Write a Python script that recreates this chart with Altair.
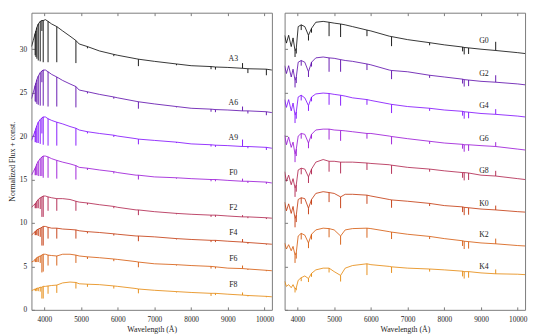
import altair as alt
import pandas as pd

# ---------------- data ----------------
TYPES_L = ["A3", "A6", "A9", "F0", "F2", "F4", "F6", "F8"]
TYPES_R = ["G0", "G2", "G4", "G6", "G8", "K0", "K2", "K4"]
COLORS = ["#000000", "#5600a8", "#7a03fd", "#950ad5", "#ac1844", "#c02f00", "#d35200", "#e48300"]

X_TICKS = [4000, 5000, 6000, 7000, 8000, 9000, 10000]
Y_TICKS = [0, 5, 10, 15, 20, 25, 30]

# left panel: wavelength grid (continuum samples incl. line centres)
GRID_L = [3650, 3700, 3750, 3771, 3798, 3835, 3889, 3934, 3970, 4030, 4102, 4200, 4340,
          4500, 4700, 4861, 4950, 5175, 5500, 5893, 6000, 6500, 6563, 7000, 7600, 8000,
          8542, 8662, 9000, 9400, 9546, 10049, 10200]
LINES_L = [3750, 3771, 3798, 3835, 3889, 3934, 3970, 4102, 4340, 4861, 5175, 5893, 6563,
           7600, 8542, 8662, 9400, 9546, 10049]

FLUX_A3 = [30.3, 31.0, 31.8, 32.1, 32.5, 32.9, 33.2, 33.3, 33.3, 33.4, 33.2, 32.9, 32.6, 32.1, 31.5, 31.0, 30.6, 30.3, 29.8, 29.4, 29.3, 28.9, 28.85, 28.6, 28.3, 28.1, 28.0, 27.95, 27.9, 27.8, 27.75, 27.7, 27.6]
FLUX_A6 = [24.3, 25.0, 25.8, 26.1, 26.5, 26.9, 27.3, 27.5, 27.6, 27.6, 27.4, 27.1, 26.8, 26.4, 26.0, 25.7, 25.3, 25.1, 24.8, 24.5, 24.4, 24.0, 23.95, 23.7, 23.4, 23.2, 23.1, 23.05, 23.0, 22.9, 22.9, 22.8, 22.7]
FLUX_A9 = [19.5, 20.0, 20.6, 20.9, 21.2, 21.6, 21.9, 22.1, 22.2, 22.2, 22.0, 21.8, 21.6, 21.4, 21.1, 20.9, 20.7, 20.5, 20.3, 20.1, 20.0, 19.7, 19.65, 19.5, 19.3, 19.1, 19.0, 18.95, 18.9, 18.8, 18.8, 18.7, 18.6]
FLUX_F0 = [15.5, 15.9, 16.3, 16.5, 16.8, 17.1, 17.4, 17.6, 17.7, 17.7, 17.6, 17.4, 17.2, 17.0, 16.8, 16.6, 16.4, 16.3, 16.1, 15.9, 15.8, 15.5, 15.5, 15.3, 15.2, 15.1, 15.0, 15.0, 14.9, 14.8, 14.8, 14.7, 14.6]
FLUX_F2 = [11.8, 12.0, 12.2, 12.3, 12.5, 12.7, 12.9, 13.0, 13.1, 13.1, 13.0, 12.9, 12.8, 12.8, 12.7, 12.5, 12.4, 12.3, 12.1, 11.9, 11.8, 11.5, 11.5, 11.3, 11.1, 11.0, 10.9, 10.9, 10.8, 10.7, 10.7, 10.6, 10.55]
FLUX_F4 = [8.6, 8.8, 9.0, 9.1, 9.2, 9.3, 9.4, 9.5, 9.6, 9.6, 9.5, 9.4, 9.4, 9.3, 9.25, 9.2, 9.1, 9.0, 8.9, 8.75, 8.7, 8.5, 8.5, 8.4, 8.2, 8.1, 8.0, 8.0, 7.9, 7.8, 7.75, 7.6, 7.55]
FLUX_F6 = [5.5, 5.6, 5.8, 5.9, 6.0, 6.1, 6.2, 6.3, 6.4, 6.4, 6.3, 6.25, 6.2, 6.4, 6.4, 6.3, 6.2, 6.1, 6.0, 5.85, 5.8, 5.55, 5.5, 5.3, 5.2, 5.1, 5.0, 4.95, 4.8, 4.75, 4.7, 4.55, 4.5]
FLUX_F8 = [2.2, 2.3, 2.4, 2.4, 2.5, 2.5, 2.6, 2.6, 2.7, 2.7, 2.75, 2.8, 2.85, 3.1, 3.2, 3.15, 3.0, 2.95, 2.9, 2.75, 2.7, 2.45, 2.4, 2.25, 2.1, 2.0, 1.9, 1.9, 1.8, 1.7, 1.65, 1.55, 1.5]

DEPTH_A3 = [2.5, 3.0, 3.6, 4.2, 4.6, 1.2, 4.8, 4.7, 4.1, 2.6, 0.2, 0.2, 0.8, 0.15, 0.3, 0.3, -0.6, 0.5, 0.7]
DEPTH_A6 = [1.8, 2.2, 2.8, 3.3, 3.8, 1.3, 4.1, 4.0, 3.4, 2.4, 0.2, 0.2, 0.8, 0.1, 0.3, 0.3, -0.5, 0.3, 0.4]
DEPTH_A9 = [1.3, 1.6, 2.0, 2.4, 2.8, 1.8, 3.2, 3.1, 2.7, 2.0, 0.2, 0.2, 0.6, 0.1, 0.2, 0.2, -0.8, 0.2, 0.3]
DEPTH_F0 = [0.8, 1.0, 1.3, 1.7, 2.0, 2.2, 2.5, 2.4, 2.1, 1.6, 0.2, 0.2, 0.5, 0.1, 0.2, 0.2, -0.3, 0.2, 0.2]
DEPTH_F2 = [0.5, 0.6, 0.8, 1.0, 1.3, 2.3, 2.4, 1.6, 1.4, 1.1, 0.2, 0.2, 0.6, 0.1, 0.2, 0.2, -0.2, 0.15, 0.15]
DEPTH_F4 = [0.4, 0.5, 0.6, 0.8, 1.0, 2.1, 2.2, 1.3, 1.2, 1.0, 0.2, 0.2, 0.6, 0.1, 0.2, 0.2, -0.35, 0.15, 0.1]
DEPTH_F6 = [0.3, 0.4, 0.5, 0.6, 0.8, 2.0, 2.0, 1.2, 1.1, 0.9, 0.25, 0.25, 0.6, 0.1, 0.25, 0.2, -0.35, 0.1, 0.1]
DEPTH_F8 = [0.2, 0.25, 0.3, 0.35, 0.5, 1.3, 1.4, 0.9, 0.9, 0.7, 0.3, 0.3, 0.5, 0.1, 0.3, 0.2, -0.3, 0.1, 0.1]

# right panel
GRID_R = [3650, 3700, 3760, 3830, 3880, 3934, 3968, 4020, 4102, 4200, 4300, 4383, 4500,
          4700, 4861, 5000, 5175, 5300, 5500, 5893, 6000, 6500, 6563, 7000, 7600, 8000,
          8498, 8542, 8662, 9000, 9400, 10000, 10200]
LINES_R = [3934, 3968, 4102, 4300, 4383, 4861, 5175, 5893, 6563, 7600, 8498, 8542, 8662, 9400]

FLUX_G0 = [31.6, 30.7, 31.6, 30.3, 31.3, 29.8, 30.1, 32.6, 32.8, 32.6, 31.6, 32.4, 33.1, 33.2, 33.1, 33.0, 32.9, 32.8, 32.6, 32.2, 32.1, 31.5, 31.45, 31.1, 30.75, 30.5, 30.25, 30.2, 30.15, 30.0, 29.85, 29.6, 29.5]
FLUX_G2 = [28.1, 27.2, 28.1, 26.8, 27.7, 26.4, 26.8, 28.5, 28.7, 28.5, 27.4, 28.5, 29.0, 29.1, 29.0, 28.95, 28.8, 28.7, 28.6, 28.3, 28.2, 27.6, 27.55, 27.4, 27.0, 26.8, 26.55, 26.5, 26.45, 26.3, 26.2, 26.0, 25.9]
FLUX_G4 = [24.2, 23.3, 24.2, 22.9, 23.8, 22.4, 22.8, 24.5, 24.7, 24.4, 23.5, 24.5, 24.85, 24.95, 24.9, 24.8, 24.7, 24.6, 24.4, 24.2, 24.1, 23.7, 23.65, 23.4, 23.2, 23.0, 22.85, 22.8, 22.75, 22.6, 22.5, 22.3, 22.2]
FLUX_G6 = [20.1, 19.0, 19.9, 18.7, 19.3, 17.9, 18.5, 20.0, 20.3, 20.2, 19.2, 20.2, 20.7, 20.8, 20.8, 20.7, 20.65, 20.6, 20.5, 20.3, 20.3, 20.0, 19.95, 19.7, 19.4, 19.2, 19.05, 19.0, 19.0, 18.9, 18.8, 18.5, 18.4]
FLUX_G8 = [15.9, 14.8, 15.5, 14.4, 15.1, 14.0, 14.4, 16.1, 16.3, 16.2, 15.3, 16.2, 17.0, 17.3, 17.1, 17.1, 17.0, 17.0, 17.0, 16.9, 16.85, 16.7, 16.65, 16.4, 16.2, 16.0, 15.8, 15.8, 15.75, 15.5, 15.4, 15.1, 15.0]
FLUX_K0 = [12.4, 11.4, 12.2, 11.1, 11.9, 10.5, 10.9, 12.7, 12.9, 12.8, 11.7, 12.7, 13.4, 13.6, 13.5, 13.4, 13.0, 13.3, 13.3, 13.2, 13.1, 12.7, 12.65, 12.5, 12.25, 12.0, 11.85, 11.8, 11.75, 11.6, 11.5, 11.3, 11.25]
FLUX_K2 = [7.7, 7.0, 7.5, 6.8, 7.3, 6.3, 6.6, 8.5, 8.8, 8.6, 7.7, 8.7, 9.2, 9.4, 9.35, 9.2, 8.5, 9.2, 9.35, 9.4, 9.35, 9.0, 8.95, 8.7, 8.45, 8.2, 7.95, 7.9, 7.85, 7.7, 7.6, 7.4, 7.35]
FLUX_K4 = [3.3, 2.7, 2.9, 2.55, 2.9, 2.4, 2.55, 3.4, 3.7, 3.9, 3.6, 4.2, 4.6, 4.8, 4.8, 4.4, 3.96, 4.8, 5.1, 5.3, 5.2, 5.0, 4.95, 4.8, 4.7, 4.6, 4.45, 4.4, 4.4, 4.25, 4.15, 4.1, 4.05]

DEPTH_G0 = [0.7, 0.6, 0.6, 0.6, 0.5, 1.6, 1.5, 0.7, 1.1, 0.3, 0.5, 0.8, 0.7, -1.0]
DEPTH_G2 = [0.8, 0.7, 0.6, 0.6, 0.5, 1.6, 1.4, 0.7, 1.0, 0.3, 0.5, 0.8, 0.7, -0.8]
DEPTH_G4 = [0.9, 0.8, 0.6, 0.6, 0.5, 1.3, 1.2, 0.6, 1.0, 0.3, 0.5, 0.8, 0.7, -0.6]
DEPTH_G6 = [0.9, 0.8, 0.6, 0.6, 0.5, 1.2, 1.2, 0.6, 0.9, 0.3, 0.5, 0.8, 0.7, -0.5]
DEPTH_G8 = [1.0, 0.8, 0.7, 0.7, 0.6, 1.2, 1.3, 0.8, 1.0, 0.3, 0.6, 0.9, 0.8, -0.6]
DEPTH_K0 = [1.0, 0.8, 0.7, 0.7, 0.6, 1.1, 1.3, 1.0, 0.9, 0.3, 0.6, 0.9, 0.8, -0.5]
DEPTH_K2 = [0.9, 0.7, 0.7, 0.6, 0.6, 1.0, 1.0, 1.1, 0.8, 0.3, 0.6, 0.9, 0.8, -0.6]
DEPTH_K4 = [0.4, 0.3, 0.4, 0.4, 0.4, 0.5, 0.7, 1.3, 0.7, 0.3, 0.6, 0.8, 0.7, -0.5]

LABEL_Y_L = [28.9, 23.8, 19.8, 15.8, 11.7, 8.8, 5.9, 2.8]
LABEL_Y_R = [30.9, 27.1, 23.4, 19.7, 16.0, 12.2, 8.6, 4.9]
LABEL_X_L = 9150
LABEL_X_R = 9080

FLUX_L = [FLUX_A3, FLUX_A6, FLUX_A9, FLUX_F0, FLUX_F2, FLUX_F4, FLUX_F6, FLUX_F8]
DEPTH_L = [DEPTH_A3, DEPTH_A6, DEPTH_A9, DEPTH_F0, DEPTH_F2, DEPTH_F4, DEPTH_F6, DEPTH_F8]
FLUX_R = [FLUX_G0, FLUX_G2, FLUX_G4, FLUX_G6, FLUX_G8, FLUX_K0, FLUX_K2, FLUX_K4]
DEPTH_R = [DEPTH_G0, DEPTH_G2, DEPTH_G4, DEPTH_G6, DEPTH_G8, DEPTH_K0, DEPTH_K2, DEPTH_K4]

# ---------------- styling ----------------
FONT = "Liberation Serif"
W, H = 246, 304
XDOM = [3650, 10200]
YDOM = [0, 34.2]
FRAME = "#7a7a7a"
TEXT = "#222222"


def panel(types, grid, lines, fluxes, depths, label_y, label_x, first):
    rows, rrows, lrows = [], [], []
    for t, fl, dp, ly in zip(types, fluxes, depths, label_y):
        for w, f in zip(grid, fl):
            rows.append({"type": t, "wl": w, "flux": f})
        for w, d in zip(lines, dp):
            top = fl[grid.index(w)]
            rrows.append({"type": t, "wl": w, "top": top, "bottom": top - d})
        lrows.append({"type": t, "wl": label_x, "y": ly})
    df, rdf, ldf = pd.DataFrame(rows), pd.DataFrame(rrows), pd.DataFrame(lrows)

    color = alt.Color("type:N", scale=alt.Scale(domain=types, range=COLORS), legend=None)
    xs = alt.Scale(domain=XDOM, nice=False, zero=False)
    ys = alt.Scale(domain=YDOM, nice=False, zero=False)

    common = dict(domain=False, grid=False, tickColor=FRAME, tickSize=3, offset=-3,
                  labelFont=FONT, labelFontSize=7.5, labelColor=TEXT,
                  titleFont=FONT, titleFontSize=8, titleFontWeight="normal", titleColor=TEXT)
    x_axis = alt.Axis(values=X_TICKS, format="d", title="Wavelength (Å)", labelPadding=6,
                      titlePadding=3, **common)
    x_top = alt.Axis(values=X_TICKS, orient="top", labels=False, title=None, **common)
    if first:
        y_axis = alt.Axis(values=Y_TICKS, title="Normalized Flux + const.", labelPadding=5,
                          titlePadding=3, **common)
    else:
        y_axis = alt.Axis(values=Y_TICKS, labels=False, title=None, **common)

    line = alt.Chart(df).mark_line(strokeWidth=0.8, clip=True).encode(
        x=alt.X("wl:Q", scale=xs, axis=x_axis),
        y=alt.Y("flux:Q", scale=ys, axis=y_axis),
        color=color,
    )
    rule = alt.Chart(rdf).mark_rule(strokeWidth=0.9, clip=True).encode(
        x=alt.X("wl:Q", scale=xs, axis=x_top),
        y=alt.Y("top:Q", scale=ys, axis=None),
        y2="bottom:Q",
        color=color,
    )
    text = alt.Chart(ldf).mark_text(font=FONT, fontSize=8).encode(
        x=alt.X("wl:Q", scale=xs, axis=None),
        y=alt.Y("y:Q", scale=ys, axis=None),
        text="type:N",
        color=alt.value(TEXT),
    )
    return (alt.layer(line, rule, text)
            .resolve_axis(x="independent", y="independent")
            .properties(width=W, height=H))


left = panel(TYPES_L, GRID_L, LINES_L, FLUX_L, DEPTH_L, LABEL_Y_L, LABEL_X_L, True)
right = panel(TYPES_R, GRID_R, LINES_R, FLUX_R, DEPTH_R, LABEL_Y_R, LABEL_X_R, False)

chart = alt.hconcat(left, right, spacing=9).resolve_scale(color="independent").properties(
    padding={"left": 0, "top": 0, "right": 0, "bottom": 0}
).configure_view(stroke=FRAME, strokeWidth=1)

chart.save("out.html", embed_options={"renderer": "svg", "actions": False})
